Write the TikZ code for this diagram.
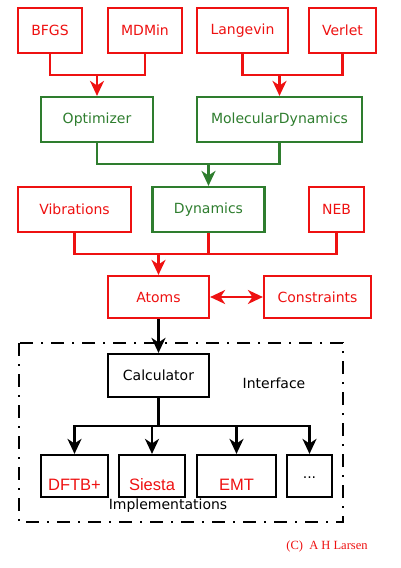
\documentclass[tikz,border=0pt]{standalone}
\usepackage{fontspec}
\setmainfont{DejaVu Sans}
\newfontfamily\arialfont{Liberation Sans}
\newfontfamily\timesfont{Liberation Serif}
\usepackage{tikz}
\usetikzlibrary{arrows.meta}
\tikzset{>={Stealth[length=15pt,width=14pt,inset=4.5pt]}}
\definecolor{asered}{HTML}{EE1111}
\definecolor{asegreen}{HTML}{2E7D2E}
\tikzset{
  box/.style={draw, line width=2.2pt, inner sep=0pt, font=\fontsize{14}{16}\selectfont},
  redbox/.style={box, draw=asered, text=asered},
  greenbox/.style={box, draw=asegreen, text=asegreen},
  blackbox/.style={box, draw=black, text=black},
  implbox/.style={box, draw=black, text=asered, minimum height=42pt,
    font=\arialfont\fontsize{16.5}{18}\selectfont, text height=28pt, text depth=0pt},
  link/.style={line width=2.2pt}
}

\begin{document}
\begin{tikzpicture}[x=1pt,y=-1pt]

\useasboundingbox (0,0) rectangle (401,568);

%% top row
\node[redbox, minimum width=64pt, minimum height=45pt] (bfgs) at (50,30.5) {BFGS};
\node[redbox, minimum width=74pt, minimum height=45pt] (mdmin) at (145,30.5) {MDMin};
\node[redbox, minimum width=91pt, minimum height=45pt] (langevin) at (242.5,30.5) {Langevin};
\node[redbox, minimum width=67pt, minimum height=45pt] (verlet) at (342.5,30.5) {Verlet};

%% dynamics classes
\node[greenbox, minimum width=112pt, minimum height=45pt] (optimizer) at (97,119.5) {Optimizer};
\node[greenbox, minimum width=165pt, minimum height=45pt] (moldyn) at (279.5,119.5) {MolecularDynamics};

\node[redbox, minimum width=113pt, minimum height=45pt] (vibrations) at (74.5,209.5) {Vibrations};
\node[greenbox, minimum width=112pt, minimum height=45pt] (dynamics) at (208.5,209.5) {Dynamics};
\node[redbox, minimum width=55pt, minimum height=45pt] (neb) at (336.5,209.5) {NEB};

\node[redbox, minimum width=101pt, minimum height=42pt] (atoms) at (158.5,297) {Atoms};
\node[redbox, minimum width=107pt, minimum height=42pt] (constraints) at (317.5,297) {Constraints};

%% calculator frame
\draw[line width=2.2pt, dash pattern=on 13pt off 8pt on 2pt off 8pt] (19,343) rectangle (343,522);
\node[blackbox, minimum width=101pt, minimum height=43pt] (calculator) at (158.5,375.5) {Calculator};
\node[font=\fontsize{14}{16}\selectfont] (interface) at (274,383) {Interface};

\node[implbox, minimum width=67pt] (dftb) at (74.5,476) {DFTB+};
\node[implbox, minimum width=66pt] (siesta) at (152,476) {Siesta};
\node[implbox, minimum width=79pt] (emt) at (236.5,476) {EMT};
\node[implbox, minimum width=45pt, text=black, font=\fontsize{14}{16}\selectfont,
  text height=4pt] (more) at (309.5,476) {...};
\node[font=\fontsize{14}{16}\selectfont] (implementations) at (168,506) {Implementations};

\node[text=asered, font=\timesfont\fontsize{12.5}{14}\selectfont] (credit) at (327,546) {(C)\ \ A H Larsen};

%% connectors
\coordinate (jopt) at (97,75);
\coordinate (jmd) at (279.5,75);
\coordinate (jdyn) at (208.5,164);
\coordinate (jatoms) at (158.5,254);
\coordinate (jcalc) at (158.5,426);

\draw[link, asered] (bfgs.south) |- (jopt) -| (mdmin.south);
\draw[link, asered, ->] (jopt) -- (optimizer.north);
\draw[link, asered] (langevin.south) |- (jmd) -| (verlet.south);
\draw[link, asered, ->] (jmd) -- (moldyn.north);

\draw[link, asegreen] (optimizer.south) |- (jdyn) -| (moldyn.south);
\draw[link, asegreen, ->] (jdyn) -- (dynamics.north);

\draw[link, asered] (vibrations.south) |- (jatoms) -| (neb.south);
\draw[link, asered] (dynamics.south) -- (dynamics.south |- jatoms);
\draw[link, asered, ->] (jatoms) -- (atoms.north);
\draw[link, asered, <->] (atoms.east) -- (constraints.west);

\draw[link, ->] (atoms.south) -- (calculator.north);
\draw[link] (calculator.south) -- (jcalc);
\foreach \impl in {dftb, siesta, emt, more}
  \draw[link, ->] (jcalc) -| (\impl.north);

\end{tikzpicture}
\end{document}
